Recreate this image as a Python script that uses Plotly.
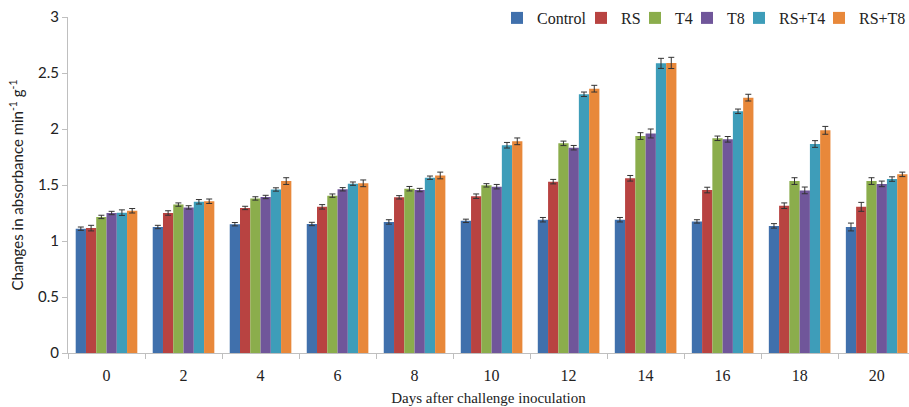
import plotly.graph_objects as go

days = ["0", "2", "4", "6", "8", "10", "12", "14", "16", "18", "20"]
series_names = ["Control", "RS", "T4", "T8", "RS+T4", "RS+T8"]

control = [1.11, 1.125, 1.15, 1.152, 1.17, 1.18, 1.19, 1.19, 1.175, 1.135, 1.125]
rs = [1.115, 1.25, 1.295, 1.305, 1.39, 1.40, 1.53, 1.56, 1.455, 1.315, 1.305]
t4 = [1.215, 1.325, 1.38, 1.405, 1.467, 1.497, 1.872, 1.937, 1.917, 1.535, 1.535]
t8 = [1.25, 1.30, 1.393, 1.462, 1.455, 1.485, 1.833, 1.96, 1.908, 1.452, 1.51]
rs_t4 = [1.253, 1.35, 1.46, 1.512, 1.565, 1.855, 2.31, 2.586, 2.158, 1.866, 1.553]
rs_t8 = [1.27, 1.355, 1.535, 1.515, 1.585, 1.89, 2.36, 2.59, 2.28, 1.988, 1.595]

err_control = [0.015, 0.015, 0.015, 0.015, 0.02, 0.015, 0.02, 0.02, 0.015, 0.02, 0.035]
err_rs = [0.025, 0.02, 0.015, 0.02, 0.015, 0.02, 0.02, 0.025, 0.025, 0.025, 0.04]
err_t4 = [0.015, 0.015, 0.015, 0.015, 0.02, 0.015, 0.02, 0.03, 0.02, 0.03, 0.03]
err_t8 = [0.015, 0.015, 0.015, 0.015, 0.015, 0.02, 0.02, 0.04, 0.025, 0.03, 0.025]
err_rs_t4 = [0.025, 0.02, 0.015, 0.015, 0.015, 0.025, 0.02, 0.045, 0.02, 0.03, 0.02]
err_rs_t8 = [0.02, 0.02, 0.03, 0.03, 0.03, 0.03, 0.03, 0.05, 0.03, 0.035, 0.02]

values = [control, rs, t4, t8, rs_t4, rs_t8]
errors = [err_control, err_rs, err_t4, err_t8, err_rs_t4, err_rs_t8]
colors = ["#4070AC", "#B84341", "#8BAD4C", "#70569A", "#3E9DB9", "#E8883A"]

# left edge (px, container) of each legend entry
legend_left_px = [497, 581, 635, 687, 739, 819]
legend_ids = ["legend", "legend2", "legend3", "legend4", "legend5", "legend6"]

W, H = 909, 407

fig = go.Figure()
for name, vals, errs, col, lid in zip(series_names, values, errors, colors, legend_ids):
    fig.add_trace(go.Bar(
        x=days, y=vals, name=name, legend=lid,
        marker=dict(color=col, line=dict(width=0)),
        error_y=dict(type="data", array=errs, visible=True,
                     color="#333333", thickness=1, width=3),
    ))

legend_font = dict(family="Liberation Serif", size=16, color="#222222")
legend_layout = {}
for lid, lx in zip(legend_ids, legend_left_px):
    legend_layout[lid] = dict(
        orientation="h", xref="container", yref="container",
        x=lx / W, xanchor="left", y=1 - 18 / H, yanchor="middle",
        font=legend_font, itemwidth=30, bgcolor="rgba(0,0,0,0)",
    )

fig.update_layout(
    width=W, height=H,
    margin=dict(l=68, r=0, t=17, b=54, autoexpand=False),
    paper_bgcolor="white", plot_bgcolor="white",
    barmode="group", bargap=0.2, bargroupgap=0,
    showlegend=True,
    xaxis=dict(
        type="category", range=[-0.5, 10.42], automargin=False,
        showline=True, linecolor="#BFBFBF", linewidth=1,
        ticks="outside", tickson="boundaries", ticklen=5, tickcolor="#BFBFBF",
        showgrid=False, zeroline=False, ticklabelstandoff=8,
        tickfont=dict(family="Liberation Serif", size=16, color="#222222"),
        title=dict(text="Days after challenge inoculation", standoff=9,
                   font=dict(family="Liberation Serif", size=15, color="#222222")),
    ),
    yaxis=dict(
        range=[0, 3], dtick=0.5, automargin=False,
        showline=True, linecolor="#BFBFBF", linewidth=1,
        ticks="outside", ticklen=5, tickcolor="#BFBFBF",
        showgrid=False, zeroline=False,
        tickfont=dict(family="Lato", size=15, color="#222222"),
        title=dict(text="Changes in absorbance min<sup>-1</sup> g<sup>-1</sup>", standoff=10,
                   font=dict(family="Lato", size=15, color="#222222")),
    ),
    **legend_layout,
)

fig.write_html("out.html")
